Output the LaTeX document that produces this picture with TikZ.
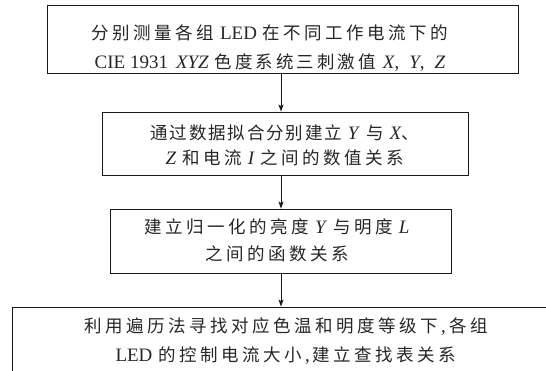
\documentclass[tikz,border=0pt]{standalone}
\usepackage{fontspec}
\setmainfont[Scale=1.085]{Liberation Serif}
\newfontfamily\cjkfont{Noto Sans CJK SC}
\makeatletter
\newcommand{\C}[2][3.5pt]{{\cjkfont\let\cjk@sep\relax\@tfor\cjk@c:=#2\do{\cjk@sep\cjk@c\def\cjk@sep{\hspace{#1}}}}}
\makeatother
\newcommand{\gapsp}{\hspace{6pt}}
\usetikzlibrary{arrows.meta}
\tikzset{
  box/.style={draw=black!90, line width=0.9pt, rectangle, inner sep=0pt},
  txt/.style={align=center, inner sep=0pt, text=black!85},
  arr/.style={draw=black!90, line width=0.8pt, -{Stealth[length=7pt,width=5pt,inset=1.5pt]}}
}
\begin{document}
\begin{tikzpicture}[x=1pt,y=-1pt]
\useasboundingbox (0,0) rectangle (546,370);
\clip (0,0) rectangle (546,370);
\node[box, minimum width=471pt, minimum height=68pt] (b1) at (282.5,39) {};
\node[box, minimum width=366pt, minimum height=63pt] (b2) at (285,143.5) {};
\node[box, minimum width=341pt, minimum height=64pt] (b3) at (280.5,241) {};
\node[box, minimum width=548pt, minimum height=78pt] (b4) at (286,346) {};
\coordinate (ax) at (281,0);

\node[txt, font=\fontsize{17.5}{29}\selectfont] (t1) at (270,48.5)
  {\C{分别测量各组}\gapsp LED\gapsp\C{在不同工作电流下的}\\
   CIE 1931\hspace{8pt}\textit{XYZ}\hspace{6pt}\C[3pt]{色度系统三刺激值}\hspace{7pt}\textit{X},\hspace{10pt}\textit{Y},\hspace{10pt}\textit{Z}};
\node[txt, font=\fontsize{17.5}{25}\selectfont] (t2) at (285,145)
  {\C[1.8pt]{通过数据拟合分别建立}\gapsp\textit{Y}\gapsp\C{与}\gapsp\textit{X}\C{、}\\
   \textit{Z}\gapsp\C{和电流}\gapsp\textit{I}\gapsp\C{之间的数值关系}};
\node[txt, font=\fontsize{17.5}{27}\selectfont] (t3) at (277,240)
  {\C{建立归一化的亮度}\gapsp\textit{Y}\gapsp\C{与明度}\gapsp\textit{L}\\
   \C{之间的函数关系}};
\node[txt, font=\fontsize{17.5}{29}\selectfont] (t4) at (286,341)
  {\C{利用遍历法寻找对应色温和明度等级下}\,,\,\C{各组}\\
   LED\gapsp\C{的控制电流大小}\,,\,\C{建立查找表关系}};

\draw[arr] (b1.south -| ax) -- (b2.north -| ax);
\draw[arr] (b2.south -| ax) -- (b3.north -| ax);
\draw[arr] (b3.south -| ax) -- (b4.north -| ax);
\end{tikzpicture}
\end{document}
